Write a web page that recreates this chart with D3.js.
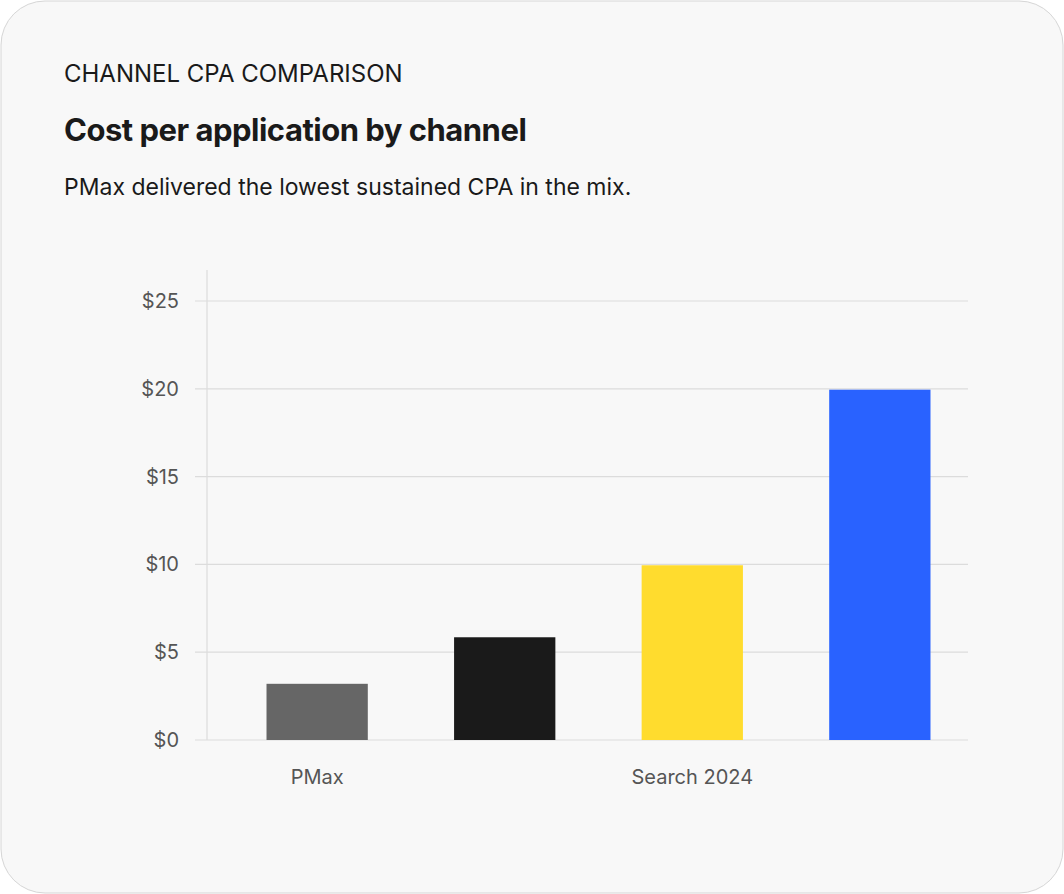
<!DOCTYPE html>
<html><head><meta charset="utf-8">
<script src="https://cdn.jsdelivr.net/npm/d3@7"></script>
<style>
body{margin:0;background:#fff;font-family:Inter,sans-serif;}
</style></head><body>
<svg id="c" width="1064" height="894"></svg>
<script>
const categories = ["PMax", "Search 2023", "Search 2024", "Demand Gen"];
const cpaValues = [3.2, 5.85, 9.95, 19.95];
const barColors = ["#666666", "#1a1a1a", "#ffdc2e", "#2962ff"];
const yTicks = [0, 5, 10, 15, 20, 25];

const svg = d3.select("#c");
svg.append("rect").attr("x", 1).attr("y", 1).attr("width", 1062).attr("height", 892)
  .attr("rx", 44).attr("fill", "#f8f8f8").attr("stroke", "#d6d6d6");

svg.append("text").attr("x", 64).attr("y", 82).attr("font-size", 24).attr("fill", "#1a1a1a")
  .text("CHANNEL CPA COMPARISON");
svg.append("text").attr("x", 64).attr("y", 141).attr("font-size", 31).attr("font-weight", 700)
  .attr("fill", "#1a1a1a").attr("letter-spacing", -0.5).text("Cost per application by channel");
svg.append("text").attr("x", 64).attr("y", 195).attr("font-size", 23).attr("fill", "#1a1a1a")
  .text("PMax delivered the lowest sustained CPA in the mix.");

const plotLeft = 207, plotRight = 968, plotTop = 270, plotBottom = 740;
const x = d3.scaleBand().domain(categories).range([plotLeft + 22, plotRight]).paddingInner(0.46).paddingOuter(0.2);
const y = d3.scaleLinear().domain([0, 25]).range([plotBottom, 301]);

svg.append("g").selectAll("line").data(yTicks).join("line")
  .attr("x1", 195).attr("x2", plotRight).attr("y1", d => y(d)).attr("y2", d => y(d))
  .attr("stroke", "#dcdcdc").attr("stroke-width", 1.2);
svg.append("line").attr("x1", plotLeft).attr("x2", plotLeft).attr("y1", plotTop).attr("y2", plotBottom)
  .attr("stroke", "#dcdcdc").attr("stroke-width", 1.2);

const yAxis = svg.append("g").attr("transform", `translate(${plotLeft},0)`)
  .call(d3.axisLeft(y).tickValues(yTicks).tickFormat(d => "$" + d).tickSize(0).tickPadding(28));
yAxis.select(".domain").remove();
yAxis.selectAll("text").attr("font-size", 20).attr("fill", "#555").attr("font-family", "Inter,sans-serif");

svg.append("g").selectAll("rect").data(categories).join("rect")
  .attr("x", d => x(d)).attr("width", x.bandwidth())
  .attr("y", (d, i) => y(cpaValues[i])).attr("height", (d, i) => plotBottom - y(cpaValues[i]))
  .attr("fill", (d, i) => barColors[i]);

const xAxis = svg.append("g").attr("transform", `translate(0,${plotBottom})`)
  .call(d3.axisBottom(x).tickSize(0).tickPadding(30).tickFormat((d, i) => i % 2 === 0 ? d : ""));
xAxis.select(".domain").remove();
xAxis.selectAll("text").attr("font-size", 20).attr("fill", "#555").attr("font-family", "Inter,sans-serif");
</script></body></html>
